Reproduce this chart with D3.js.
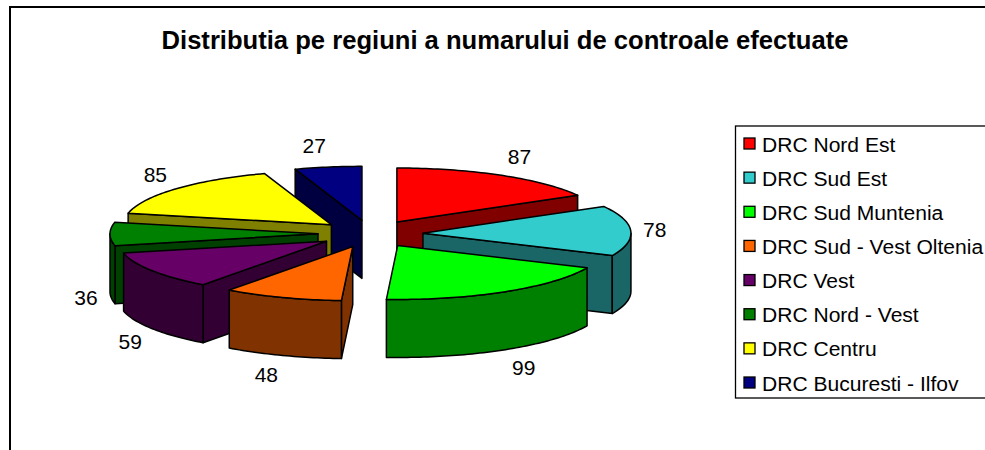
<!DOCTYPE html>
<html><head><meta charset="utf-8">
<script src="https://cdn.jsdelivr.net/npm/d3@7"></script>
<style>html,body{margin:0;padding:0;background:#fff;overflow:hidden}svg{display:block}
text{font-family:"Liberation Sans",Arial,sans-serif;fill:#000}</style>
</head><body><svg id="c" width="985" height="450"></svg>
<script>
const titleText = "Distributia pe regiuni a numarului de controale efectuate";
const categories = ["DRC Nord Est","DRC Sud Est","DRC Sud Muntenia","DRC Sud - Vest Oltenia","DRC Vest","DRC Nord - Vest","DRC Centru","DRC Bucuresti - Ilfov"];
const values = [87,78,99,48,59,36,85,27];
const topColors = ["#FF0000","#33CCCC","#00FF00","#FF6600","#660066","#008000","#FFFF00","#000080"];
const sideColors = ["#800000","#1A6666","#008000","#803300","#330033","#004000","#808000","#000040"];

const svg = d3.select("#c");
const W = 985, H = 450;
const cx = 370.5, cy = 233.8, rx = 208, ry = 54, depth = 58, explode = 0.2524;
const sx = d3.scaleLinear().domain([-1,1]).range([cx-rx,cx+rx]);
const sy = d3.scaleLinear().domain([-1,1]).range([cy+ry,cy-ry]);
const line = d3.line().x(p=>p[0]).y(p=>p[1]);

// frame (only left and top edges fall inside the picture)
svg.append("rect").attr("x",10).attr("y",7).attr("width",W+20).attr("height",H+20)
   .attr("fill","#fff").attr("stroke","#000").attr("stroke-width",2);

svg.append("text").attr("x",505).attr("y",49).attr("text-anchor","middle")
   .attr("font-size",25.6).attr("font-weight","bold").text(titleText);

const arcs = d3.pie().sort(null).value(d=>d)(values).map((a,i)=>{
  const mid=(a.startAngle+a.endAngle)/2;
  const ox=explode*Math.sin(mid), oy=explode*Math.cos(mid);
  const pt=t=>[sx(ox+Math.sin(t)), sy(oy+Math.cos(t))];
  return {i,a,mid,pt,apex:[sx(ox),sy(oy)]};
});

const down=p=>[p[0],p[1]+depth];
const wall=pts=>line(pts.concat(pts.slice().reverse().map(down)))+"Z";
const arcPts=(f,s,e)=>{const n=Math.max(2,Math.ceil((e-s)/0.02));return d3.range(n+1).map(k=>f(s+(e-s)*k/n));};
const strokeAttrs=sel=>sel.attr("stroke","#000").attr("stroke-width",1.5).attr("stroke-linejoin","round");

arcs.slice().sort((p,q)=>d3.ascending(p.apex[1],q.apex[1])).forEach(s=>{
  const {i,a,pt,apex}=s, g=svg.append("g");
  const s0=a.startAngle, e0=a.endAngle;
  if(Math.sin(s0)<-1e-6) strokeAttrs(g.append("path").attr("d",wall([apex,pt(s0)])).attr("fill",sideColors[i]));
  if(Math.sin(e0)>1e-6) strokeAttrs(g.append("path").attr("d",wall([pt(e0),apex])).attr("fill",sideColors[i]));
  const lo=Math.max(s0,Math.PI/2), hi=Math.min(e0,3*Math.PI/2);
  if(hi>lo) strokeAttrs(g.append("path").attr("d",wall(arcPts(pt,lo,hi))).attr("fill",sideColors[i]));
  strokeAttrs(g.append("path").attr("d",line([apex].concat(arcPts(pt,s0,e0)))+"Z").attr("fill",topColors[i]));
});

// data labels
svg.append("g").selectAll("text").data(arcs).join("text")
  .attr("font-size",21).attr("text-anchor","middle").attr("dominant-baseline","central")
  .attr("x",s=>{const v=Math.sin(s.mid);return s.apex[0]+rx*v+Math.sign(v)*(12+12*Math.abs(v));})
  .attr("y",s=>{const c=Math.cos(s.mid);return s.apex[1]-c*(c>0?76:68.5)+(c<0?63:0);})
  .text(s=>values[s.i]);

// legend
const row=d3.scalePoint().domain(categories).range([144,383]);
svg.append("rect").attr("x",735.5).attr("y",126).attr("width",W).attr("height",272)
   .attr("fill","#fff").attr("stroke","#000").attr("stroke-width",1.3);
const leg=svg.append("g").selectAll("g").data(categories).join("g")
   .attr("transform",d=>`translate(0,${row(d)})`);
leg.append("rect").attr("x",744).attr("y",-6).attr("width",11).attr("height",11)
   .attr("fill",(d,i)=>topColors[i]).attr("stroke","#000").attr("stroke-width",1.3);
leg.append("text").attr("x",762).attr("dominant-baseline","central").attr("font-size",21.05).text(d=>d);
</script></body></html>
